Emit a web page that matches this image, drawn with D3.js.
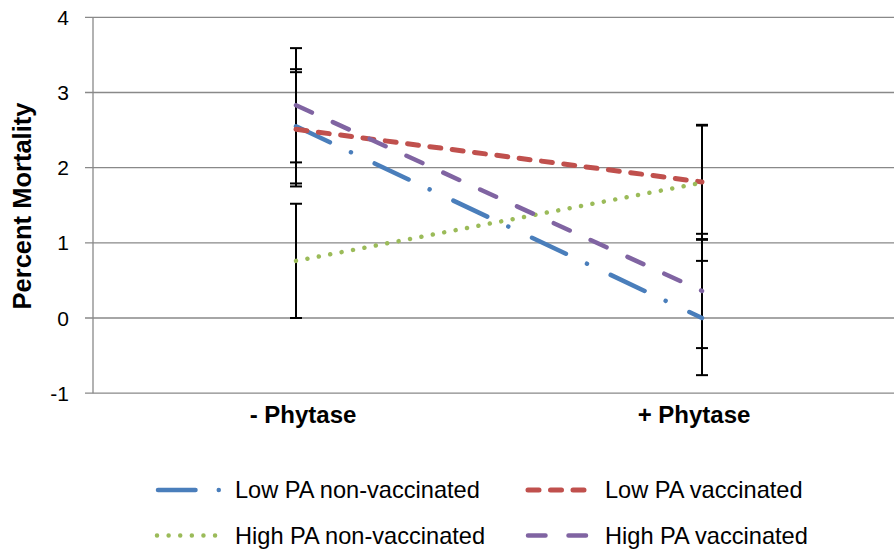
<!DOCTYPE html>
<html>
<head>
<meta charset="utf-8">
<script src="https://cdn.jsdelivr.net/npm/d3@7"></script>
<style>
  html, body { margin: 0; padding: 0; background: #fff; }
  svg { display: block; }
  text { font-family: "Liberation Sans", Arial, sans-serif; fill: #000; }
</style>
</head>
<body>
<svg id="chart" width="894" height="552"></svg>
<script>
// ---- data ----
const categories = ["- Phytase", "+ Phytase"];
const seriesNames = ["Low PA non-vaccinated", "Low PA vaccinated", "High PA non-vaccinated", "High PA vaccinated"];
const lowNonVacc = [2.55, 0.0];
const lowVacc = [2.51, 1.81];
const highNonVacc = [0.76, 1.80];
const highVacc = [2.83, 0.36];
const errLowNonVacc = [0.76, 0.76];
const errLowVacc = [0.76, 0.76];
const errHighNonVacc = [0.76, 0.76];
const errHighVacc = [0.76, 0.76];
const yTicks = [-1, 0, 1, 2, 3, 4];
const yTitle = "Percent Mortality";

// ---- styles ----
const colors = ["#4A7EBB", "#C0504D", "#9BBB59", "#8064A2"];
const widths = [4.5, 5, 4.5, 4.5];
const dashes = ["37.5 23.25 0.01 26.24", "11 11.5", "0.01 11.6", "17.5 23"];

const series = [
  { name: seriesNames[0], values: lowNonVacc, err: errLowNonVacc },
  { name: seriesNames[1], values: lowVacc, err: errLowVacc },
  { name: seriesNames[2], values: highNonVacc, err: errHighNonVacc },
  { name: seriesNames[3], values: highVacc, err: errHighVacc }
].map((s, i) => ({ ...s, color: colors[i], width: widths[i], dash: dashes[i] }));

const svg = d3.select("#chart");

const x = d3.scaleBand().domain(categories).range([93, 905]).padding(0);
const y = d3.scaleLinear().domain([-1, 4]).range([393.2, 17.3]);
const cx = c => x(c) + x.bandwidth() / 2;

// gridlines
svg.append("g").selectAll("line").data(yTicks).join("line")
  .attr("x1", 85).attr("x2", 894)
  .attr("y1", d => y(d)).attr("y2", d => y(d))
  .attr("stroke", "#898989").attr("stroke-width", 1.3);

// y axis line
svg.append("line")
  .attr("x1", 93).attr("x2", 93)
  .attr("y1", y(4)).attr("y2", y(-1))
  .attr("stroke", "#898989").attr("stroke-width", 1.3);

// y tick labels
svg.append("g").selectAll("text").data(yTicks).join("text")
  .attr("x", 69).attr("y", d => y(d))
  .attr("dy", "0.36em")
  .attr("text-anchor", "end")
  .attr("font-size", 21)
  .text(d => d);

// y title
svg.append("text")
  .attr("transform", "translate(31,206) rotate(-90)")
  .attr("text-anchor", "middle")
  .attr("font-size", 25.5)
  .attr("font-weight", "bold")
  .text(yTitle);

// category labels
const labelShift = [7, -8];
svg.append("g").selectAll("text").data(categories).join("text")
  .attr("x", (d, i) => cx(d) + labelShift[i])
  .attr("y", 423)
  .attr("text-anchor", "middle")
  .attr("font-size", 24)
  .attr("font-weight", "bold")
  .text(d => d);

// error bars
const eb = svg.append("g");
series.forEach(s => {
  categories.forEach((c, i) => {
    const v = s.values[i], e = s.err[i];
    const xx = cx(c);
    eb.append("line").attr("x1", xx).attr("x2", xx)
      .attr("y1", y(v + e)).attr("y2", y(v - e))
      .attr("stroke", "#000").attr("stroke-width", 2);
    [v + e, v - e].forEach(t => {
      eb.append("line").attr("x1", xx - 6).attr("x2", xx + 6)
        .attr("y1", y(t)).attr("y2", y(t))
        .attr("stroke", "#000").attr("stroke-width", 2);
    });
  });
});

// lines
const line = d3.line().x(d => cx(d.c)).y(d => y(d.v));
svg.append("g").selectAll("path").data(series).join("path")
  .attr("d", s => line(categories.map((c, i) => ({ c, v: s.values[i] }))))
  .attr("fill", "none")
  .attr("stroke", s => s.color)
  .attr("stroke-width", s => s.width)
  .attr("stroke-dasharray", s => s.dash)
  .attr("stroke-linecap", "round");

// legend
const legendPos = [
  { x1: 158, x2: 221, tx: 235, y: 490 },
  { x1: 528, x2: 588, tx: 605, y: 490 },
  { x1: 157, x2: 219, tx: 235, y: 535.5 },
  { x1: 528, x2: 588, tx: 605, y: 535.5 }
];
const lg = svg.append("g");
series.forEach((s, i) => {
  const p = legendPos[i];
  lg.append("path")
    .attr("d", `M${p.x1},${p.y}L${p.x2},${p.y}`)
    .attr("fill", "none")
    .attr("stroke", s.color)
    .attr("stroke-width", s.width)
    .attr("stroke-dasharray", s.dash)
    .attr("stroke-linecap", "round");
  lg.append("text")
    .attr("x", p.tx).attr("y", p.y + 8.4)
    .attr("font-size", 23.6)
    .text(s.name);
});
</script>
</body>
</html>
